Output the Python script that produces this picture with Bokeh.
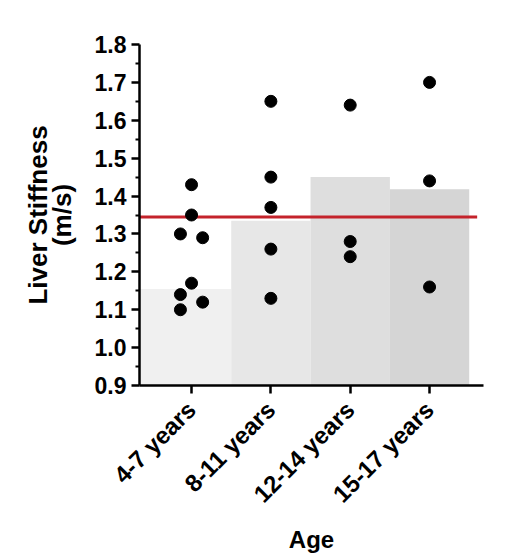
import math
from bokeh.plotting import figure
from bokeh.models import Range1d, FixedTicker
from bokeh.embed import file_html
from bokeh.resources import INLINE

# ---- data ----
categories = ["4-7 years", "8-11 years", "12-14 years", "15-17 years"]
bar_values = [1.155, 1.335, 1.45, 1.418]
bar_colors = ["#f0f0f0", "#e7e7e7", "#dedede", "#d5d5d5"]

group1 = [1.43, 1.35, 1.30, 1.29, 1.17, 1.14, 1.12, 1.10]
group2 = [1.65, 1.45, 1.37, 1.26, 1.13]
group3 = [1.64, 1.28, 1.24]
group4 = [1.70, 1.44, 1.16]
groups = [group1, group2, group3, group4]
# horizontal scatter offsets (column scatter layout)
jitter1 = [0, 0, -1, 1, 0, -1, 1, -1]
jitters = [jitter1, [0] * 5, [0] * 3, [0] * 3]

reference_value = 1.345
y_ticks = [0.9, 1.0, 1.1, 1.2, 1.3, 1.4, 1.5, 1.6, 1.7, 1.8]

X_START, X_END = 0.344, 4.68

p = figure(
    x_range=Range1d(X_START, X_END), y_range=Range1d(0.9, 1.8),
    frame_width=344, frame_height=341,
    min_border_left=139, min_border_top=44, min_border_right=20, min_border_bottom=160,
    output_backend="svg", toolbar_location=None,
)
p.outline_line_color = None
p.xgrid.visible = False
p.ygrid.visible = False
p.background_fill_color = "white"

n = len(categories)
xs = list(range(1, n + 1))
lefts = [X_START] + [x - 0.5 for x in xs[1:]]
rights = [x + 0.5 for x in xs]
p.quad(left=lefts, right=rights, bottom=[0.9] * n, top=bar_values,
       fill_color=bar_colors, line_color=None)

p.segment(x0=[X_START], x1=[n + 0.6], y0=[reference_value], y1=[reference_value],
          line_color="#c4232b", line_width=3)

px, py = [], []
for i, (g, j) in enumerate(zip(groups, jitters)):
    for v, o in zip(g, j):
        px.append(i + 1 + 0.14 * o)
        py.append(v)
p.scatter(px, py, size=12, fill_color="black", line_color="black")

FONT = "Liberation Sans"

xa = p.xaxis[0]
xa.ticker = FixedTicker(ticks=xs, minor_ticks=[])
xa.major_label_overrides = {x: c for x, c in zip(xs, categories)}
xa.major_label_orientation = math.pi / 4
xa.axis_label = "Age"

ya = p.yaxis[0]
minor = [round(0.95 + 0.1 * k, 2) for k in range(9)]
ya.ticker = FixedTicker(ticks=y_ticks, minor_ticks=minor)
ya.major_label_overrides = {t: f"{t:.1f}" for t in y_ticks}
ya.axis_label = "Liver Stiffness\n(m/s)"

for ax in (xa, ya):
    ax.axis_line_width = 2.5
    ax.axis_line_color = "black"
    ax.major_tick_line_width = 2.5
    ax.minor_tick_line_width = 2
    ax.major_tick_in = 0
    ax.major_tick_out = 8
    ax.minor_tick_in = 0
    ax.minor_tick_out = 4
    ax.major_label_text_font = FONT
    ax.major_label_text_font_style = "bold"
    ax.major_label_text_color = "black"
    ax.axis_label_text_font = FONT
    ax.axis_label_text_font_style = "bold"
    ax.axis_label_text_color = "black"

ya.major_label_standoff = 5
xa.major_label_standoff = 12
ya.major_label_text_font_size = "23px"
xa.major_label_text_font_size = "24px"
xa.axis_label_text_font_size = "24px"
ya.axis_label_text_font_size = "26px"
ya.axis_label_text_line_height = 0.78
xa.axis_label_standoff = 6
ya.axis_label_standoff = 15

open("out.html", "w").write(file_html(p, INLINE))
